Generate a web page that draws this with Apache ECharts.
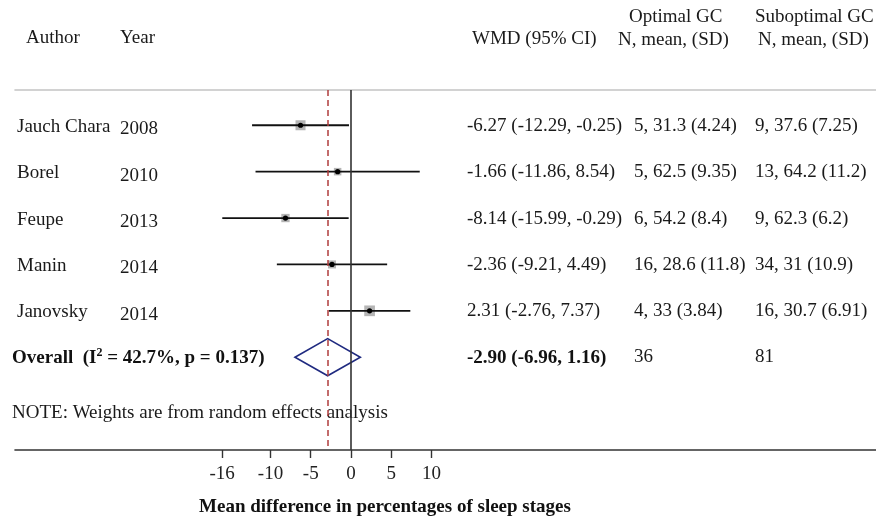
<!DOCTYPE html>
<html><head><meta charset="utf-8">
<script src="https://cdn.jsdelivr.net/npm/echarts@6/dist/echarts.min.js"></script>
<style>html,body{margin:0;padding:0;background:#fff}#c{width:876px;height:518px}</style>
</head><body><div id="c"></div>
<script>
// ---- data ----
const authors = ['Jauch Chara', 'Borel', 'Feupe', 'Manin', 'Janovsky'];
const years = ['2008', '2010', '2013', '2014', '2014'];
const wmd = [-6.27, -1.66, -8.14, -2.36, 2.31];
const ciLow = [-12.29, -11.86, -15.99, -9.21, -2.76];
const ciHigh = [-0.25, 8.54, -0.29, 4.49, 7.37];
const weights = [24.8, 13.9, 17.1, 15.9, 28.3]; // estimated from square sizes
const optimalGC = ['5, 31.3 (4.24)', '5, 62.5 (9.35)', '6, 54.2 (8.4)', '16, 28.6 (11.8)', '4, 33 (3.84)'];
const suboptimalGC = ['9, 37.6 (7.25)', '13, 64.2 (11.2)', '9, 62.3 (6.2)', '34, 31 (10.9)', '16, 30.7 (6.91)'];
const overallEst = -2.90, overallLow = -6.96, overallHigh = 1.16;
const overallOptimalN = '36', overallSuboptimalN = '81';
const overallI2 = '42.7%', overallP = '0.137';
const xTicks = [-16, -10, -5, 0, 5, 10];
const xTitle = 'Mean difference in percentages of sleep stages';
const note = 'NOTE: Weights are from random effects analysis';

// ---- chart ----
const FONT = '"Liberation Serif", "Times New Roman", serif';
const chart = echarts.init(document.getElementById('c'), null, {renderer: 'canvas'});
const studyData = authors.map((a, i) => [i, wmd[i], ciLow[i], ciHigh[i], weights[i]]);
const fmt = v => v.toFixed(2);

chart.setOption({
  animation: false,
  backgroundColor: '#fff',
  grid: {left: 15, right: 0, top: 90, bottom: 68, containLabel: false},
  xAxis: [{
    type: 'value', min: -41.74, max: 65.22, position: 'bottom',
    axisLine: {show: true, onZero: false, lineStyle: {color: '#333', width: 1.6}},
    axisTick: {show: true, customValues: xTicks, length: 8, lineStyle: {color: '#333', width: 1.4}},
    axisLabel: {customValues: xTicks, fontFamily: FONT, fontSize: 19, color: '#222', margin: 15},
    splitLine: {show: false}
  }, {
    type: 'value', min: -41.74, max: 65.22, position: 'top',
    axisLine: {show: true, onZero: false, lineStyle: {color: '#c4c4c4', width: 1.6}},
    axisTick: {show: false}, axisLabel: {show: false}, splitLine: {show: false}
  }],
  yAxis: {type: 'value', inverse: true, min: -0.76, max: 7.0, show: false, splitLine: {show: false}},
  series: [{
    type: 'custom', name: 'studies', data: studyData,
    encode: {x: [1, 2, 3], y: 0},
    z: 3,
    renderItem(params, api) {
      const y = api.value(0);
      const p = api.coord([api.value(1), y]);
      const a = api.coord([api.value(2), y]);
      const b = api.coord([api.value(3), y]);
      const s = 2.01 * Math.sqrt(api.value(4));
      return {type: 'group', children: [
        {type: 'rect', shape: {x: p[0] - s / 2, y: p[1] - s / 2, width: s, height: s}, style: {fill: '#b5b5b5'}},
        {type: 'line', shape: {x1: a[0], y1: a[1], x2: b[0], y2: b[1]}, style: {stroke: '#111', lineWidth: 1.8}},
        {type: 'circle', shape: {cx: p[0], cy: p[1], r: 2.6}, style: {fill: '#000'}}
      ]};
    },
    markLine: {
      silent: true, symbol: 'none', label: {show: false},
      lineStyle: {color: '#333', width: 1.6, type: 'solid'},
      data: [{xAxis: 0}]
    }
  }, {
    type: 'custom', name: 'overall', data: [[5, overallEst, overallLow, overallHigh]],
    encode: {x: [1, 2, 3], y: 0},
    z: 4,
    renderItem(params, api) {
      const y = api.value(0);
      const l = api.coord([api.value(2), y]);
      const r = api.coord([api.value(3), y]);
      const t = api.coord([api.value(1), y - 0.4]);
      const b = api.coord([api.value(1), y + 0.4]);
      return {type: 'polygon', shape: {points: [l, t, r, b]},
        style: {fill: 'none', stroke: '#1f2a80', lineWidth: 1.6}};
    },
    markLine: {
      silent: true, symbol: 'none', label: {show: false},
      lineStyle: {color: '#b03c3c', width: 1.5, type: [6, 4]},
      data: [{xAxis: overallEst}]
    }
  }]
});

// ---- text table ----
const rowY = i => chart.convertToPixel({yAxisIndex: 0}, i);
const txt = (text, x, y, opt = {}) => ({
  type: 'text', x, y, silent: true,
  style: Object.assign({text, fill: '#1a1a1a', font: '19px ' + FONT, textAlign: 'left', textVerticalAlign: 'middle'}, opt)
});
const g = [];
// headers
g.push(txt('Author', 26, 38));
g.push(txt('Year', 120, 38));
g.push(txt('WMD (95% CI)', 472, 39));
g.push(txt('Optimal GC', 629, 17));
g.push(txt('N, mean, (SD)', 618, 40));
g.push(txt('Suboptimal GC', 755, 17));
g.push(txt('N, mean, (SD)', 758, 40));
// rows
authors.forEach((a, i) => {
  const y = rowY(i);
  g.push(txt(a, 17, y + 1.5));
  g.push(txt(years[i], 120, y + 4));
  g.push(txt(`${fmt(wmd[i])} (${fmt(ciLow[i])}, ${fmt(ciHigh[i])})`, 467, y + 0.5));
  g.push(txt(optimalGC[i], 634, y + 0.5));
  g.push(txt(suboptimalGC[i], 755, y + 0.5));
});
// overall row
const yo = rowY(5);
g.push({
  type: 'text', x: 12, y: yo + 1, silent: true,
  style: {
    text: `{b|Overall  (I}{sup|2}{b| = ${overallI2}, p = ${overallP})}`,
    textAlign: 'left', textVerticalAlign: 'middle',
    rich: {
      b: {fontFamily: FONT, fontSize: 19, fontWeight: 'bold', fill: '#111', color: '#111'},
      sup: {fontFamily: FONT, fontSize: 12, fontWeight: 'bold', fill: '#111', color: '#111', verticalAlign: 'top', padding: [0, 0, 10, 0]}
    }
  }
});
g.push(txt(`${fmt(overallEst)} (${fmt(overallLow)}, ${fmt(overallHigh)})`, 467, yo + 1, {font: 'bold 19px ' + FONT, fill: '#111'}));
g.push(txt(overallOptimalN, 634, yo));
g.push(txt(overallSuboptimalN, 755, yo));
// note and axis title
g.push(txt(note, 12, 413));
g.push(txt(xTitle, 385, 507, {font: 'bold 19px ' + FONT, textAlign: 'center', fill: '#111'}));

chart.setOption({graphic: g});
</script>
</body></html>
